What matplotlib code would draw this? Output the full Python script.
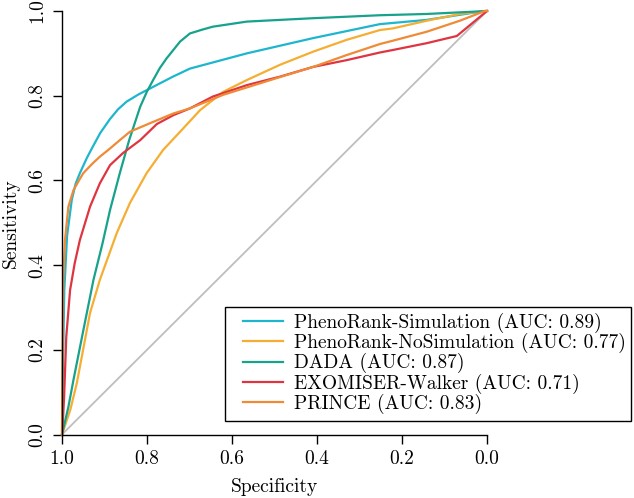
import matplotlib
matplotlib.use("Agg")
import matplotlib.pyplot as plt
from matplotlib.patches import Rectangle

plt.rcParams["font.family"] = ["cmr10", "DejaVu Serif"]
plt.rcParams["axes.formatter.use_mathtext"] = True

# ROC curves: specificity, sensitivity
sim_spec = [1.0, 0.998, 0.9946, 0.988, 0.977, 0.968, 0.958, 0.942, 0.930, 0.910, 0.887, 0.868,
            0.848, 0.820, 0.793, 0.739, 0.699, 0.565, 0.409, 0.252, 0.142, 0.064, 0.005, 0.0]
sim_sens = [0.0, 0.150, 0.341, 0.470, 0.554, 0.592, 0.617, 0.652, 0.675, 0.712, 0.745, 0.768,
            0.786, 0.803, 0.817, 0.845, 0.864, 0.900, 0.936, 0.969, 0.979, 0.991, 1.0, 1.0]

nosim_spec = [1.0, 0.980, 0.965, 0.934, 0.911, 0.871, 0.840, 0.801, 0.762, 0.722, 0.675,
              0.621, 0.565, 0.487, 0.409, 0.330, 0.252, 0.221, 0.142, 0.064, 0.005, 0.0]
nosim_sens = [0.0, 0.060, 0.122, 0.287, 0.365, 0.476, 0.547, 0.617, 0.672, 0.715, 0.766,
              0.809, 0.837, 0.873, 0.904, 0.932, 0.955, 0.959, 0.977, 0.993, 1.0, 1.0]

dada_spec = [1.0, 0.985, 0.973, 0.950, 0.926, 0.905, 0.887, 0.864, 0.842, 0.816, 0.800,
             0.785, 0.770, 0.754, 0.722, 0.699, 0.670, 0.645, 0.565, 0.409, 0.252,
             0.142, 0.040, 0.0]
dada_sens = [0.0, 0.065, 0.129, 0.245, 0.365, 0.450, 0.530, 0.617, 0.695, 0.774, 0.810,
             0.838, 0.865, 0.888, 0.928, 0.947, 0.956, 0.963, 0.975, 0.983, 0.990,
             0.993, 0.998, 1.0]

exo_spec = [1.0, 0.998, 0.995, 0.990, 0.981, 0.970, 0.958, 0.934, 0.911, 0.887, 0.856,
            0.816, 0.777, 0.738, 0.699, 0.645, 0.565, 0.487, 0.409, 0.330, 0.252, 0.221,
            0.142, 0.071, 0.0]
exo_sens = [0.0, 0.030, 0.089, 0.230, 0.341, 0.405, 0.459, 0.538, 0.593, 0.636, 0.665,
            0.695, 0.733, 0.754, 0.770, 0.798, 0.825, 0.845, 0.868, 0.884, 0.902, 0.908,
            0.924, 0.941, 1.0]

prince_spec = [1.0, 0.999, 0.997, 0.993, 0.985, 0.973, 0.960, 0.950, 0.930, 0.911, 0.891,
               0.864, 0.840, 0.793, 0.738, 0.699, 0.621, 0.487, 0.409, 0.330, 0.252,
               0.221, 0.142, 0.064, 0.005, 0.0]
prince_sens = [0.0, 0.150, 0.365, 0.459, 0.538, 0.577, 0.600, 0.617, 0.638, 0.656, 0.672,
               0.695, 0.715, 0.735, 0.758, 0.770, 0.802, 0.844, 0.868, 0.896, 0.922,
               0.930, 0.951, 0.977, 1.0, 1.0]

labels = ["PhenoRank-Simulation (AUC: 0.89)",
          "PhenoRank-NoSimulation (AUC: 0.77)",
          "DADA (AUC: 0.87)",
          "EXOMISER-Walker (AUC: 0.71)",
          "PRINCE (AUC: 0.83)"]
colors = ["#1DB6CE", "#F5AE32", "#17A28C", "#DF3540", "#EF8A36"]

ticks = [1.0, 0.8, 0.6, 0.4, 0.2, 0.0]
tick_labels = ["1.0", "0.8", "0.6", "0.4", "0.2", "0.0"]

W, H = 634, 498
fs = 14
fig = plt.figure(figsize=(W / 100, H / 100), dpi=100)
ax = fig.add_axes([62 / W, 1 - 434.5 / H, 425 / W, 423.5 / H])

ax.plot([1, 0], [0, 1], color="#BEBEBE", lw=1.3, clip_on=False, zorder=1)

curves = [(sim_spec, sim_sens), (nosim_spec, nosim_sens), (dada_spec, dada_sens),
          (exo_spec, exo_sens), (prince_spec, prince_sens)]
handles = []
for (sx, sy), c, lab in zip(curves, colors, labels):
    h, = ax.plot(sx, sy, color=c, lw=1.6, label=lab, clip_on=False, zorder=2)
    handles.append(h)

ax.set_xlim(1.0, 0.0)
ax.set_ylim(0.0, 1.0)
ax.set_xticks(ticks)
ax.set_xticklabels(tick_labels, fontsize=fs)
ax.set_yticks(ticks)
ax.set_yticklabels(tick_labels, fontsize=fs, rotation=90, va="center")
ax.tick_params(direction="out", length=6.5, width=1, pad=5)
for s in ["top", "right"]:
    ax.spines[s].set_visible(False)
for s in ["left", "bottom"]:
    ax.spines[s].set_linewidth(1)

# axis titles placed like R's mtext
fig.text(274.5 / W, 1 - 492 / H, "Specificity", fontsize=fs, ha="center", va="baseline")
fig.text(16 / W, 1 - 222.7 / H, "Sensitivity", fontsize=fs, rotation=90,
         rotation_mode="anchor", ha="center", va="baseline")

# legend: items without frame, box drawn separately (it sticks out past the axes)
leg = fig.legend(handles=handles, labels=labels, loc="upper left",
                 bbox_to_anchor=(243 / W, 1 - 313 / H), fontsize=fs,
                 frameon=False, handlelength=2.06, handletextpad=0.55,
                 labelspacing=0.0, borderpad=0, borderaxespad=0)
fig.patches.append(Rectangle((225 / W, 1 - 421 / H), 406 / W, 114 / H,
                             transform=fig.transFigure, fill=False,
                             edgecolor="black", lw=1))

fig.savefig("out.png", dpi=100)
